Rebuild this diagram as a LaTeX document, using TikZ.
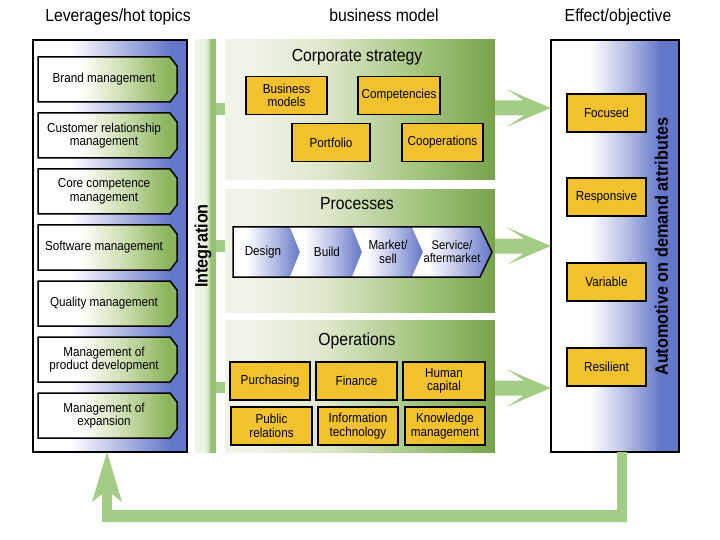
\documentclass[tikz,border=0pt]{standalone}
\usepackage{fontspec}
\setmainfont{Liberation Sans}[FakeStretch=0.9]
\usetikzlibrary{calc}
\definecolor{yel}{HTML}{F2C12E}
\definecolor{gdark}{HTML}{78A24A}
\definecolor{gmid}{HTML}{A6C782}
\definecolor{glight}{HTML}{DCE7CA}
\definecolor{gpale}{HTML}{F0F4E8}
\definecolor{garrow}{HTML}{A3CD87}
\definecolor{gbar}{HTML}{95C173}
\definecolor{bdark}{HTML}{6476C8}
\definecolor{bmid}{HTML}{B8C0E6}
\definecolor{itemg}{HTML}{8AB35A}
\definecolor{itemgl}{HTML}{CFE0B4}
\pgfdeclarehorizontalshading{levshade}{100bp}{color(0bp)=(white); color(37bp)=(white); color(52bp)=(bmid); color(70bp)=(bdark); color(100bp)=(bdark)}
\pgfdeclarehorizontalshading{effshade}{100bp}{color(0bp)=(white); color(40bp)=(white); color(54bp)=(bmid); color(68bp)=(bdark); color(100bp)=(bdark)}
\pgfdeclarehorizontalshading{panelshade}{100bp}{color(0bp)=(gpale); color(30bp)=(gpale); color(44bp)=(glight); color(60bp)=(gmid); color(75bp)=(gdark); color(100bp)=(gdark)}
\pgfdeclarehorizontalshading{itemshade}{100bp}{color(0bp)=(white); color(40bp)=(white); color(55bp)=(itemgl); color(72bp)=(itemg); color(100bp)=(itemg)}
\pgfdeclarehorizontalshading{chevshade}{100bp}{color(0bp)=(white); color(35bp)=(white); color(55bp)=(bmid); color(75bp)=(bdark); color(100bp)=(bdark)}
\pgfdeclarehorizontalshading{barshade}{100bp}{color(0bp)=(gpale); color(45bp)=(gpale); color(55bp)=(glight); color(62bp)=(gbar); color(100bp)=(gbar)}
\begin{document}
\begin{tikzpicture}[x=1pt,y=-1pt,
  every node/.style={inner sep=0pt, outer sep=0pt},
  hdr/.style={font=\fontsize{17.5}{19}\selectfont},
  txt/.style={font=\fontsize{13}{13.5}\selectfont, align=center},
  vtxt/.style={font=\bfseries\fontsize{18}{19}\selectfont, rotate=90},
  ybox/.style={draw=black, line width=1.5pt, fill=yel, minimum height=38, txt},
  panelbox/.style={draw=black, line width=1.5pt, minimum width=154, minimum height=412},
  midpanel/.style={shade, shading=panelshade, minimum width=270},
  item/.style={shading=itemshade, draw=black, line width=1.5pt},
  chev/.style={shading=chevshade},
  greenfill/.style={fill=garrow}]
\fill[white] (0,0) rectangle (720,540);
\useasboundingbox (0,0) rectangle (720,540);

% headers
\node[hdr, anchor=base] (h1) at (118,22) {Leverages/hot topics};
\node[hdr, anchor=base] (h2) at (384,22) {business model};
\node[hdr, anchor=base] (h3) at (618,22) {Effect/objective};

% left panel
\node[panelbox, shade, shading=levshade] (lev) at (110,246) {};
\foreach \t/\nm/\lbl in {57/l1/{Brand management},113/l2/{Customer relationship\\management},169/l3/{Core competence\\management},225/l4/{Software management},281/l5/{Quality management},337/l6/{Management of\\product development},393/l7/{Management of\\expansion}}{
  \shadedraw[item] (38,\t) -- (170,\t) -- (177,\t+9) -- (177,\t+36) -- (170,\t+45) -- (38,\t+45) -- cycle;
  \node[txt] (\nm) at (104,\t+22.5) {\lbl};
}

% integration bar
\node[shade, shading=barshade, minimum width=21, minimum height=412] (bar) at (205.5,246) {};
\node[vtxt] (integ) at (203,246) {Integration};

% tabs
\fill[garrow] (216,103) rectangle (226,115);
\fill[garrow] (216,240) rectangle (226,252);
\fill[garrow] (216,382) rectangle (226,393);

% middle panels
\node[midpanel, minimum height=140] (cs) at (360,110) {};
\node[midpanel, minimum height=122] (pr) at (360,251) {};
\node[midpanel, minimum height=132] (op) at (360,386) {};
\node[hdr, anchor=base] (cst) at (357,62) {Corporate strategy};
\node[hdr, anchor=base] (prt) at (357,210) {Processes};
\node[hdr, anchor=base] (opt) at (357,345.5) {Operations};

% corporate strategy boxes
\node[ybox, minimum width=81] (bm) at (286.5,95.5) {Business\\models};
\node[ybox, minimum width=82] (comp) at (399,95.5) {Competencies};
\node[ybox, minimum width=78] (port) at (331,142.5) {Portfolio};
\node[ybox, minimum width=81] (coop) at (442.5,142.5) {Cooperations};

% processes chevrons
\shade[chev] (233,227) -- (290,227) -- (300,252) -- (290,277) -- (233,277) -- cycle;
\shade[chev] (290,227) -- (352,227) -- (362,252) -- (352,277) -- (290,277) -- (300,252) -- cycle;
\shade[chev] (352,227) -- (412,227) -- (423,252) -- (412,277) -- (352,277) -- (362,252) -- cycle;
\shade[chev] (412,227) -- (480,227) -- (492,252) -- (480,277) -- (412,277) -- (423,252) -- cycle;
\draw[line width=1.5pt] (233,227) -- (480,227) -- (492,252) -- (480,277) -- (233,277) -- cycle;
\node[txt] (design) at (263,252) {Design};
\node[txt] (build) at (327,252) {Build};
\node[txt] (market) at (388,252) {Market/\\sell};
\node[txt, font=\fontsize{12.5}{13}\selectfont] (service) at (452,252) {Service/\\aftermarket};

% operations boxes
\node[ybox, minimum width=80] (purch) at (270,381) {Purchasing};
\node[ybox, minimum width=81] (fin) at (356.5,381) {Finance};
\node[ybox, minimum width=82] (hc) at (444,381) {Human\\capital};
\node[ybox, minimum width=81] (pubr) at (271.5,426) {Public\\relations};
\node[ybox, minimum width=80] (it) at (358,426) {Information\\technology};
\node[ybox, minimum width=80] (km) at (445,426) {Knowledge\\management};

% right panel
\node[panelbox, minimum width=128, shade, shading=effshade] (eff) at (615,246) {};
\node[vtxt] (auto) at (661.5,246.5) {Automotive on demand attributes};
\node[ybox, minimum width=79] (foc) at (606.5,113) {Focused};
\node[ybox, minimum width=79] (resp) at (606.5,197) {Responsive};
\node[ybox, minimum width=79] (var) at (606.5,282) {Variable};
\node[ybox, minimum width=79] (resil) at (606.5,367) {Resilient};

% block arrows middle -> right
\coordinate (a1) at (cs.east |- 0,108);
\coordinate (a2) at (pr.east |- 0,246);
\coordinate (a3) at (op.east |- 0,388);
\foreach \a in {a1,a2,a3}{
  \coordinate (e) at (eff.west |- \a);
  \fill[garrow] ($(\a)+(0,-7.5)$) -- ($(e)+(-27,-7.5)$) -- ($(e)+(-44,-18.5)$) -- (e) -- ($(e)+(-44,18.5)$) -- ($(e)+(-27,7.5)$) -- ($(\a)+(0,7.5)$) -- cycle;
}

% feedback arrow
\coordinate (fb1) at (622,452);
\coordinate (fb2) at (107,452);
\fill[garrow] ($(fb1)+(-5,0)$) -- ($(fb1)+(5,0)$) -- ($(fb1)+(5,70)$) -- ($(fb2)+(-5,70)$) -- ($(fb2)+(-5,42)$) -- ($(fb2)+(-15,50)$) -- (fb2) -- ($(fb2)+(15,50)$) -- ($(fb2)+(5,42)$) -- ($(fb2)+(5,58)$) -- ($(fb1)+(-5,58)$) -- cycle;
\end{tikzpicture}
\end{document}
